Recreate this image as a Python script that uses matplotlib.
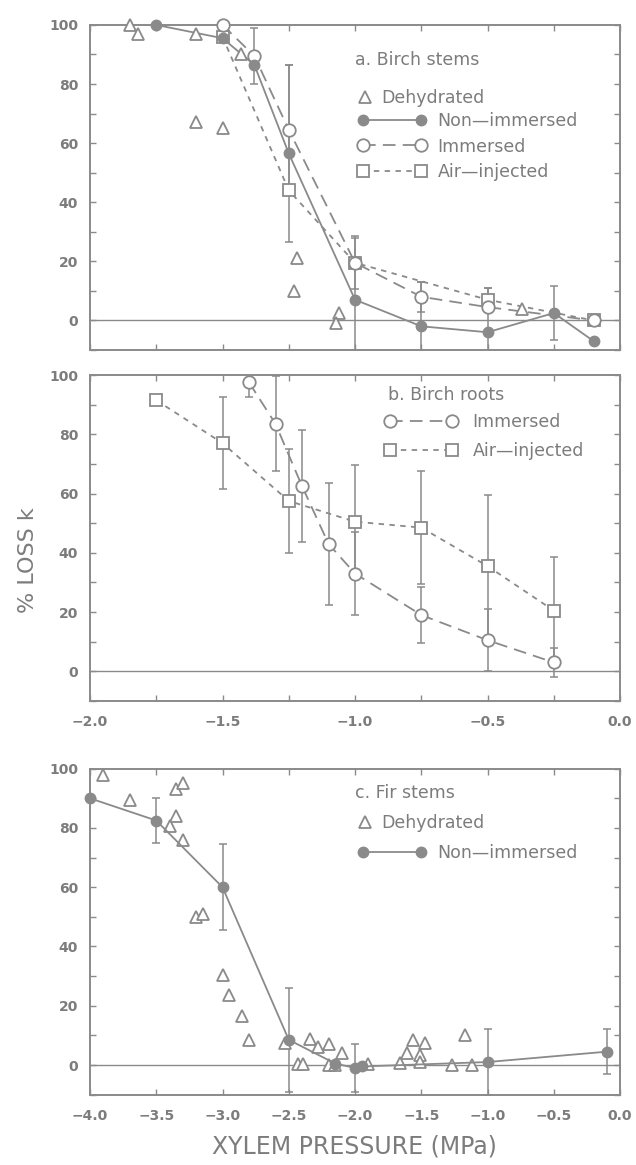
import matplotlib
matplotlib.use("Agg")
import matplotlib.pyplot as plt
from matplotlib.legend import Legend
from matplotlib.ticker import MultipleLocator, FuncFormatter
from matplotlib.legend_handler import HandlerLine2D

# ---- a. Birch stems ----
dehyd_a_x = [-1.85, -1.82, -1.60, -1.60, -1.50, -1.43, -1.22, -1.23, -1.06, -1.07, -0.37]
dehyd_a_y = [100, 97, 97, 67, 65, 90, 21, 10, 2.5, -0.8, 4]

nonimm_a_x = [-1.75, -1.50, -1.38, -1.25, -1.00, -0.75, -0.50, -0.25, -0.10]
nonimm_a_y = [100, 95.5, 86.5, 56.5, 7, -2, -4, 2.5, -7]
nonimm_a_err = [0, 0, 0, 30, 21, 15, 15, 9, 0]

imm_a_x = [-1.50, -1.38, -1.25, -1.00, -0.75, -0.50, -0.10]
imm_a_y = [100, 89.5, 64.5, 19.5, 8, 4.5, 0]
imm_a_err = [0, 9.5, 22, 9, 5, 0, 0]

air_a_x = [-1.50, -1.25, -1.00, -0.50, -0.10]
air_a_y = [96, 44, 19.5, 7, 0]
air_a_err = [0, 0, 0, 4, 2]

# ---- b. Birch roots ----
imm_b_x = [-1.40, -1.30, -1.20, -1.10, -1.00, -0.75, -0.50, -0.25]
imm_b_y = [97.5, 83.5, 62.5, 43, 33, 19, 10.5, 3]
imm_b_err = [5, 16, 19, 20.5, 14, 9.5, 10.5, 5]

air_b_x = [-1.75, -1.50, -1.25, -1.00, -0.75, -0.50, -0.25]
air_b_y = [91.5, 77, 57.5, 50.5, 48.5, 35.5, 20.5]
air_b_err = [0, 15.5, 17.5, 19, 19, 24, 18]

# ---- c. Fir stems ----
dehyd_c_x = [-3.90, -3.70, -3.35, -3.30, -3.35, -3.40, -3.30, -3.20, -3.15, -3.00,
             -2.95, -2.85, -2.80, -2.53, -2.43, -2.39, -2.34, -2.28, -2.20, -2.10,
             -2.20, -2.15, -1.90, -1.66, -1.61, -1.56, -1.51, -1.47, -1.51, -1.27,
             -1.17, -1.12]
dehyd_c_y = [98, 89.5, 93, 95, 84, 80.5, 76, 50, 51, 30.5,
             23.5, 16.5, 8.5, 7.5, 0.5, 0.5, 8.7, 6, 7.2, 4,
             0, 0, 0.5, 0.7, 4, 8.5, 3.4, 7.5, 1, 0,
             10, 0]

nonimm_c_x = [-4.00, -3.50, -3.00, -2.50, -2.15, -2.00, -1.95, -1.00, -0.10]
nonimm_c_y = [90, 82.5, 60, 8.5, 0.5, -1, -0.5, 1, 4.5]
nonimm_c_err = [0, 7.7, 14.5, 17.5, 0, 8, 0, 11, 7.5]

GRAY = "#8a8a8a"
TXT = "#7c7c7c"
LW = 1.3
LONG = (7, 4)
SHORT = (3, 3)
FS = 12.5

plt.rcParams["font.family"] = ["DejaVu Sans"]


def style_axes(ax, xmin, xmax, major, minor, labels):
    ax.set_xlim(xmin, xmax)
    ax.set_ylim(-10, 100)
    ax.axhline(0, color=GRAY, lw=1.0, zorder=1)
    ax.xaxis.set_major_locator(MultipleLocator(major))
    if minor:
        ax.xaxis.set_minor_locator(MultipleLocator(minor))
    ax.yaxis.set_major_locator(MultipleLocator(20))
    ax.yaxis.set_minor_locator(MultipleLocator(10))
    ax.xaxis.set_major_formatter(FuncFormatter(lambda v, p: f"{v:.1f}".replace("-", "\u2212")))
    ax.tick_params(which="both", direction="in", top=True, right=True, length=4,
                   width=1.0, color=GRAY, labelcolor=TXT, labelsize=10)
    ax.tick_params(axis="y", pad=8.5)
    ax.tick_params(axis="x", pad=10)
    if not labels:
        ax.tick_params(axis="x", labelbottom=False)
    for lab in ax.get_xticklabels() + ax.get_yticklabels():
        lab.set_fontweight("bold")
    for s in ax.spines.values():
        s.set_color(GRAY)
        s.set_linewidth(1.4)


def errs(ax, x, y, e):
    ax.errorbar(x, y, yerr=e, fmt="none", ecolor=GRAY, elinewidth=1.1, capsize=3, capthick=1.1, zorder=2)


def legend(ax, handles, loc, anchor, hlen, pad, spacing, npts):
    leg = Legend(ax, handles, [h.get_label() for h in handles],
                 handler_map={h: HandlerLine2D(numpoints=npts) for h in handles},
                 loc=loc, bbox_to_anchor=anchor, frameon=False, fontsize=FS,
                 handlelength=hlen, handletextpad=pad, labelspacing=spacing,
                 borderaxespad=0, borderpad=0)
    for t in leg.get_texts():
        t.set_color(TXT)
    ax.add_artist(leg)


def title(ax, x, y, s):
    ax.text(x, y, s, transform=ax.transAxes, ha="left", va="center", fontsize=FS, color=TXT)


fig = plt.figure(figsize=(6.36, 11.65), dpi=100)
ax_a = fig.add_axes([0.1415, 0.6996, 0.8335, 0.2790])
ax_b = fig.add_axes([0.1415, 0.3983, 0.8335, 0.2798])
ax_c = fig.add_axes([0.1415, 0.0604, 0.8335, 0.2798])

# panel a
errs(ax_a, nonimm_a_x, nonimm_a_y, nonimm_a_err)
errs(ax_a, imm_a_x, imm_a_y, imm_a_err)
errs(ax_a, air_a_x, air_a_y, air_a_err)
h_air_a, = ax_a.plot(air_a_x, air_a_y, color=GRAY, lw=LW, ls=(0, SHORT), marker="s", ms=9,
                     mfc="white", mec=GRAY, mew=1.3, clip_on=False, zorder=3, label="Air\u2014injected")
h_imm_a, = ax_a.plot(imm_a_x, imm_a_y, color=GRAY, lw=LW, ls=(0, LONG), marker="o", ms=9,
                     mfc="white", mec=GRAY, mew=1.3, clip_on=False, zorder=4, label="Immersed")
h_non_a, = ax_a.plot(nonimm_a_x, nonimm_a_y, color=GRAY, lw=LW, ls="-", marker="o", ms=7.5,
                     mfc=GRAY, mec=GRAY, clip_on=False, zorder=5, label="Non\u2014immersed")
h_deh_a, = ax_a.plot(dehyd_a_x, dehyd_a_y, ls="None", marker="^", ms=8.5, mfc="white",
                     mec=GRAY, mew=1.3, clip_on=False, zorder=6, label="Dehydrated")
style_axes(ax_a, -2.0, 0.0, 0.5, 0.25, False)
title(ax_a, 0.500, 0.892, "a. Birch stems")
legend(ax_a, [h_deh_a], "center left", (0.506, 0.775), 0.8, 0.55, 0.4, 1)
legend(ax_a, [h_non_a, h_imm_a, h_air_a], "upper left", (0.506, 0.732), 3.9, 0.68, 0.43, 2)

# panel b
errs(ax_b, imm_b_x, imm_b_y, imm_b_err)
errs(ax_b, air_b_x, air_b_y, air_b_err)
h_imm_b, = ax_b.plot(imm_b_x, imm_b_y, color=GRAY, lw=LW, ls=(0, LONG), marker="o", ms=9,
                     mfc="white", mec=GRAY, mew=1.3, zorder=4, label="Immersed")
h_air_b, = ax_b.plot(air_b_x, air_b_y, color=GRAY, lw=LW, ls=(0, SHORT), marker="s", ms=9,
                     mfc="white", mec=GRAY, mew=1.3, zorder=3, label="Air\u2014injected")
style_axes(ax_b, -2.0, 0.0, 0.5, 0.25, True)
title(ax_b, 0.563, 0.939, "b. Birch roots")
legend(ax_b, [h_imm_b, h_air_b], "upper left", (0.556, 0.884), 4.2, 0.86, 0.63, 2)

# panel c
errs(ax_c, nonimm_c_x, nonimm_c_y, nonimm_c_err)
h_non_c, = ax_c.plot(nonimm_c_x, nonimm_c_y, color=GRAY, lw=LW, ls="-", marker="o", ms=7.5,
                     mfc=GRAY, mec=GRAY, clip_on=False, zorder=5, label="Non\u2014immersed")
h_deh_c, = ax_c.plot(dehyd_c_x, dehyd_c_y, ls="None", marker="^", ms=8.5, mfc="white",
                     mec=GRAY, mew=1.3, clip_on=False, zorder=4, label="Dehydrated")
style_axes(ax_c, -4.0, 0.0, 0.5, None, True)
title(ax_c, 0.500, 0.926, "c. Fir stems")
legend(ax_c, [h_deh_c], "center left", (0.506, 0.834), 0.8, 0.55, 0.4, 1)
legend(ax_c, [h_non_c], "upper left", (0.506, 0.770), 3.9, 0.68, 0.43, 2)

fig.text(0.044, 0.519, "% LOSS k", rotation=90, ha="center", va="center", fontsize=16, color=TXT)
fig.text(0.558, 0.016, "XYLEM PRESSURE (MPa)", ha="center", va="center", fontsize=17, color=TXT)

fig.savefig("out.png", dpi=100)
